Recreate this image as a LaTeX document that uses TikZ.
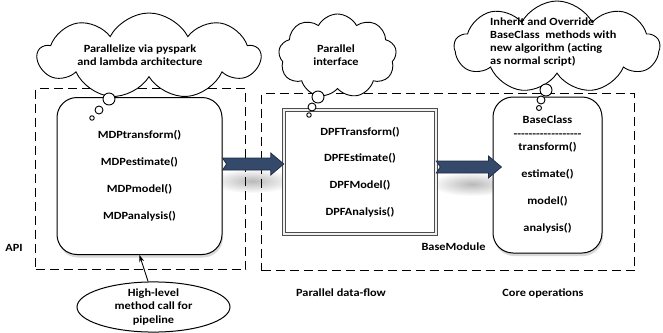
\documentclass[tikz,border=0pt]{standalone}
\usepackage{fontspec}
\setmainfont{Carlito}[FakeStretch=1.12]
\usetikzlibrary{shapes.symbols,shapes.geometric,shadows,calc,arrows.meta,fadings}
\tikzfading[name=softfade, inner color=transparent!0, outer color=transparent!100]
\definecolor{arrowfill}{HTML}{35496B}
\definecolor{arrowline}{HTML}{1E2C45}
\newcommand\hy{\mbox{-}}
\newcommand\blkarrow[2]{%
  \filldraw[fill=arrowfill, draw=arrowline, line width=0.7pt, line join=miter]
    let \p1=(#1), \p2=(#2) in
    (\x1,\y1+6pt) -- (\x2-13pt,\y1+6pt) -- (\x2-13pt,\y1+11pt) -- (\x2,\y1)
    -- (\x2-13pt,\y1-11pt) -- (\x2-13pt,\y1-6pt) -- (\x1,\y1-6pt) -- (\x1+4pt,\y1) -- cycle;}
\begin{document}
\begin{tikzpicture}[x=1pt,y=-1pt,
  font=\bfseries\fontsize{11}{13}\selectfont,
  dbox/.style={draw, line width=1.3pt, dash pattern=on 9pt off 5pt, anchor=north west, inner sep=0pt},
  rbox/.style={draw, line width=1pt, rounded corners=20pt, fill=white, align=center, inner sep=0pt,
    drop shadow={shadow xshift=1pt, shadow yshift=-3pt, opacity=0.3}},
  dpfbox/.style={draw=gray!60!black, double=gray!12, double distance=2.4pt, line width=0.9pt, fill=white, align=center, inner sep=0pt},
  thought/.style={cloud, draw, line width=0.9pt, cloud puffs=9, cloud puff arc=125, cloud ignores aspect, fill=white, inner sep=0pt},
  bubble/.style={circle, draw, line width=0.9pt, fill=white, inner sep=0pt},
  lbl/.style={align=center, inner sep=0pt},
  softshadow/.style={fill=black!55, opacity=0.5, path fading=softfade}
]
\useasboundingbox (0,0) rectangle (663,332);

% soft shadows under block arrows
\fill[softshadow] (252,181) ellipse (42pt and 12pt);
\fill[softshadow] (472,184) ellipse (42pt and 12pt);

% dashed areas
\node[dbox, minimum width=210, minimum height=181] (apiarea) at (35,88) {};
\node[dbox, minimum width=373, minimum height=177] (flowarea) at (261,93) {};

% boxes
\node[rbox, minimum width=165, minimum height=157, font=\bfseries\fontsize{11}{27}\selectfont] (mdp) at (139.5,176)
  {MDPtransform()\\MDPestimate()\\MDPmodel()\\MDPanalysis()};
\node[dpfbox, minimum width=151.5, minimum height=123.5, font=\bfseries\fontsize{11}{26.7}\selectfont] (dpf) at (360,172)
  {DPFTransform()\\DPFEstimate()\\DPFModel()\\DPFAnalysis()};
\node[rbox, minimum width=109, minimum height=156, font=\bfseries\fontsize{11}{13.5}\selectfont] (base) at (547.5,175)
  {BaseClass\\\hy\hy\hy\hy\hy\hy\hy\hy\hy\hy\hy\hy\hy\hy\hy\hy\hy\hy\\transform()\\[13.5pt]estimate()\\[13.5pt]model()\\[13.5pt]analysis()};

% block arrows
\coordinate (a1s) at (mdp.east |- 0,164);
\coordinate (a1e) at (dpf.west |- 0,164);
\coordinate (a2s) at (dpf.east |- 0,167);
\coordinate (a2e) at ($(base.west |- 0,167)+(9,0)$);
\blkarrow{a1s}{a1e}
\blkarrow{a2s}{a2e}

% clouds
\node[thought, minimum width=222, minimum height=86] (c1) at (149,56) {};
\node[lbl] (c1t) at (140,55) {Parallelize via pyspark\\and lambda architecture};
\node[thought, minimum width=118, minimum height=84] (c2) at (337.5,56) {};
\node[lbl] (c2t) at (336,55) {Parallel\\interface};
\node[thought, minimum width=205, minimum height=92] (c3) at (557,47) {};
\node[lbl, align=left, anchor=west] (c3t) at (490,42.5) {Inherit and Override\\BaseClass~ methods with\\new algorithm (acting\\as normal script)};

% thought bubbles
\node[bubble, minimum size=12] (b11) at (109,99) {};
\node[bubble, minimum size=8] (b12) at (99,110) {};
\node[bubble, minimum size=4.5] (b13) at (92,118) {};
\node[bubble, minimum size=12] (b21) at (318,97) {};
\node[bubble, minimum size=8] (b22) at (312,107) {};
\node[bubble, minimum size=4.5] (b23) at (309,115) {};
\node[bubble, minimum size=12] (b31) at (546,90) {};
\node[bubble, minimum size=8] (b32) at (541,100) {};
\node[bubble, minimum size=5] (b33) at (539,108) {};

% labels
\node[lbl] (api) at (14,248) {API};
\node[lbl] (bm) at (453.5,247) {BaseModule};
\node[lbl] (pdf) at (341,293) {Parallel data-flow};
\node[lbl] (core) at (543,293) {Core operations};

% high-level call
\node[ellipse, draw, line width=1pt, minimum width=153, minimum height=48, inner sep=0pt, align=center] (ell) at (153.5,307)
  {High-level\\method call for\\pipeline};
\draw[-{Stealth[length=7pt,width=5pt]}, line width=0.9pt] (ell.102) -- (mdp.south);
\end{tikzpicture}
\end{document}
